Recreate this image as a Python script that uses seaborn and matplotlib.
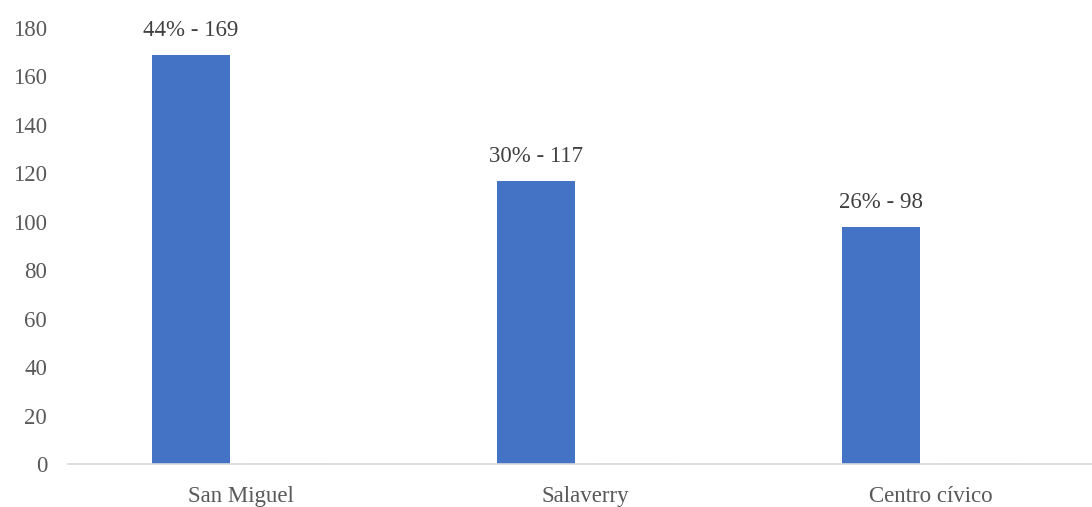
import matplotlib
matplotlib.use("Agg")
import matplotlib.pyplot as plt
import seaborn as sns
import pandas as pd

# Data
categories = ["San Miguel", "Salaverry", "Centro cívico"]
counts = [169, 117, 98]
percents = ["44%", "30%", "26%"]
secondary = [0, 0, 0]

rows = []
for cat, c, s in zip(categories, counts, secondary):
    rows.append({"sede": cat, "serie": "Cantidad", "valor": c})
    rows.append({"sede": cat, "serie": "Otro", "valor": s})
df = pd.DataFrame(rows)

sns.set_theme(style="white")
plt.rcParams["font.family"] = ["Liberation Serif", "DejaVu Serif"]

fig = plt.figure(figsize=(10.92, 5.07), dpi=100)
ax = fig.add_axes([0.0623, 0.0848, 0.948, 0.86])

sns.barplot(
    data=df, x="sede", y="valor", hue="serie",
    order=categories, hue_order=["Cantidad", "Otro"],
    palette={"Cantidad": "#4472C4", "Otro": "#ED7D31"},
    width=0.576, gap=0.215, dodge=True, legend=False,
    saturation=1, errorbar=None, ax=ax,
)

# Style the zero-height secondary bars as a faint outline
n = len(categories)
for i, patch in enumerate(ax.patches):
    if i >= n:
        patch.set_edgecolor("#f2d6c9")
        patch.set_linewidth(1.0)
    else:
        patch.set_edgecolor("none")

# Value labels above the main bars
for i, patch in enumerate(ax.patches[:n]):
    x = patch.get_x() + patch.get_width() / 2
    ax.annotate(f"{percents[i]} - {counts[i]}", (x, counts[i]),
                xytext=(0, 10), textcoords="offset points",
                ha="center", va="bottom", fontsize=16.5, color="#404040")

ax.set_xlim(-0.5, 2.5)
ax.set_ylim(0, 180)
ax.set_yticks(range(0, 181, 20))
ax.set_xlabel("")
ax.set_ylabel("")

for side in ["top", "right", "left"]:
    ax.spines[side].set_visible(False)
ax.spines["bottom"].set_color("#d9d9d9")
ax.spines["bottom"].set_linewidth(1.2)

ax.tick_params(axis="y", length=0, pad=15, labelsize=16.5, labelcolor="#595959")
ax.tick_params(axis="x", length=0, pad=16, labelsize=16.5, labelcolor="#595959")

fig.savefig("out.png", dpi=100)
